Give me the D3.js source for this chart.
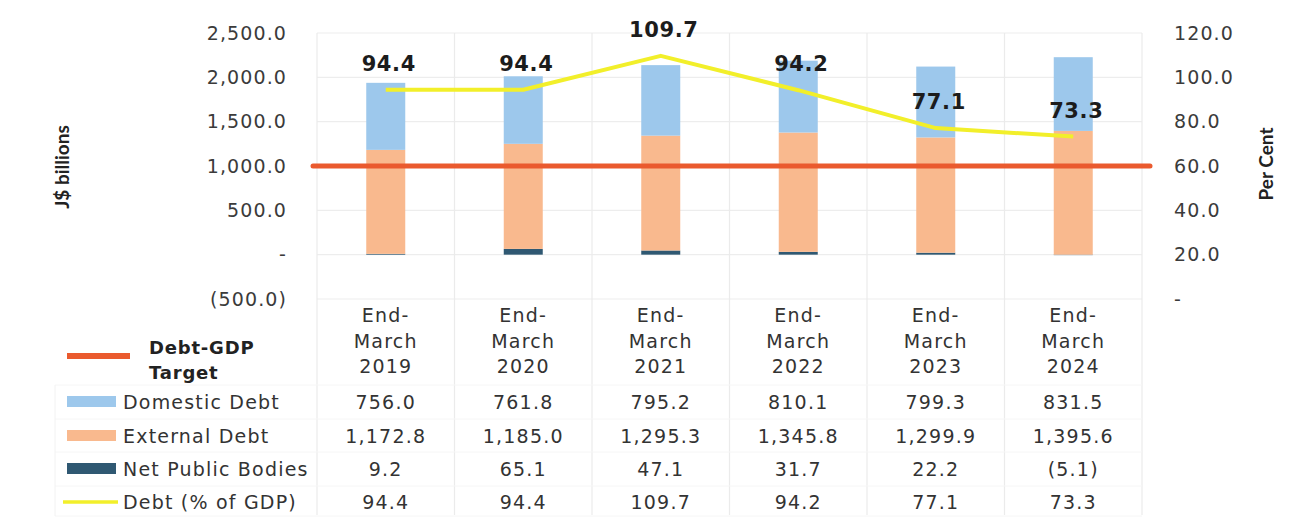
<!DOCTYPE html>
<html>
<head>
<meta charset="utf-8">
<script src="https://cdn.jsdelivr.net/npm/d3@7"></script>
<style>
  html, body { margin: 0; padding: 0; background: #ffffff; }
  svg { display: block; }
</style>
</head>
<body>
<svg id="chart" width="1313" height="523"></svg>
<script>
// ---------------- data ----------------
const categories = ["End-March 2019", "End-March 2020", "End-March 2021", "End-March 2022", "End-March 2023", "End-March 2024"];
const domesticDebt = [756.0, 761.8, 795.2, 810.1, 799.3, 831.5];
const externalDebt = [1172.8, 1185.0, 1295.3, 1345.8, 1299.9, 1395.6];
const netPublicBodies = [9.2, 65.1, 47.1, 31.7, 22.2, -5.1];
const debtPctGDP = [94.4, 94.4, 109.7, 94.2, 77.1, 73.3];
const debtGDPTarget = 60;
const leftTickValues = [-500, 0, 500, 1000, 1500, 2000, 2500];
const rightTickValues = [0, 20, 40, 60, 80, 100, 120];
const leftAxisTitle = "J$ billions";
const rightAxisTitle = "Per Cent";
const legendLabels = ["Domestic Debt", "External Debt", "Net Public Bodies", "Debt (% of GDP)"];
const targetLabelLines = ["Debt-GDP", "Target"];

// ---------------- layout ----------------
const svg = d3.select("#chart");
const X0 = 317, X1 = 1142, Y0 = 299, Y1 = 33;
const FONT = "'DejaVu Sans', Verdana, sans-serif";
const colors = { domestic: "#9DC8EC", external: "#F9B98E", net: "#2F5872", line: "#F2EF2A", target: "#EA5A2E" };

const x = d3.scaleBand().domain(categories).range([X0, X1]).paddingInner(0).paddingOuter(0);
const barW = 39;
const yL = d3.scaleLinear().domain([-500, 2500]).range([Y0, Y1]);
const yR = d3.scaleLinear().domain([0, 120]).range([Y0, Y1]);

const fmt = v => v === 0 ? "-" : (v < 0 ? "(" + d3.format(",.1f")(-v) + ")" : d3.format(",.1f")(v));

// ---------------- gridlines ----------------
const grid = svg.append("g");
grid.selectAll("line.h").data(leftTickValues).join("line")
  .attr("x1", X0).attr("x2", X1)
  .attr("y1", d => yL(d)).attr("y2", d => yL(d))
  .attr("stroke", "#ededed").attr("stroke-width", 1.2);
const edges = categories.map(c => x(c)).concat([X1]);
grid.selectAll("line.v").data(edges).join("line")
  .attr("x1", d => d).attr("x2", d => d)
  .attr("y1", Y1).attr("y2", 515)
  .attr("stroke", "#ebebeb").attr("stroke-width", 1.2);
// table row borders (very faint) and left border
const tableRowLines = [385, 419, 452, 486, 516];
grid.selectAll("line.t").data(tableRowLines).join("line")
  .attr("x1", 55).attr("x2", X1)
  .attr("y1", d => d).attr("y2", d => d)
  .attr("stroke", "#f6f6f6").attr("stroke-width", 1);
grid.append("line").attr("x1", 55).attr("x2", 55).attr("y1", 385).attr("y2", 516)
  .attr("stroke", "#f2f2f2").attr("stroke-width", 1);

// ---------------- stacked bars ----------------
const rows = categories.map((c, i) => ({ cat: c, net: netPublicBodies[i], external: externalDebt[i], domestic: domesticDebt[i] }));
const stack = d3.stack().keys(["net", "external", "domestic"]).offset(d3.stackOffsetDiverging);
const series = stack(rows);
svg.append("g").selectAll("g").data(series).join("g")
  .attr("fill", d => colors[d.key])
  .selectAll("rect").data(d => d).join("rect")
  .attr("x", d => x(d.data.cat) + x.bandwidth() / 2 - barW / 2)
  .attr("width", barW)
  .attr("y", d => yL(Math.max(d[0], d[1])))
  .attr("height", d => Math.abs(yL(d[0]) - yL(d[1])));

// ---------------- target line ----------------
svg.append("line")
  .attr("x1", X0 - 4).attr("x2", X1 + 8)
  .attr("y1", yR(debtGDPTarget)).attr("y2", yR(debtGDPTarget))
  .attr("stroke", colors.target).attr("stroke-width", 5).attr("stroke-linecap", "round");

// ---------------- debt % line ----------------
const lineGen = d3.line()
  .x((d, i) => x(categories[i]) + x.bandwidth() / 2)
  .y(d => yR(d));
svg.append("path").datum(debtPctGDP)
  .attr("d", lineGen)
  .attr("fill", "none").attr("stroke", colors.line).attr("stroke-width", 4)
  .attr("stroke-linejoin", "round");
svg.append("g").selectAll("text").data(debtPctGDP).join("text")
  .attr("x", (d, i) => x(categories[i]) + x.bandwidth() / 2 + 3)
  .attr("y", d => yR(d) - 19)
  .attr("text-anchor", "middle")
  .attr("font-family", FONT).attr("font-weight", "bold").attr("font-size", 21)
  .attr("letter-spacing", 0.6)
  .attr("fill", "#1c1c1c")
  .text(d => d3.format(".1f")(d));

// ---------------- axes ----------------
const axL = svg.append("g").attr("transform", `translate(290,0)`)
  .call(d3.axisLeft(yL).tickValues(leftTickValues).tickFormat(fmt).tickSize(0).tickPadding(3));
const axR = svg.append("g").attr("transform", `translate(1170,0)`)
  .call(d3.axisRight(yR).tickValues(rightTickValues).tickFormat(fmt).tickSize(0).tickPadding(4));
[axL, axR].forEach(ax => {
  ax.select(".domain").remove();
  ax.selectAll("text").attr("font-family", FONT).attr("font-size", 19)
    .attr("letter-spacing", 1.1).attr("fill", "#3b3b3b");
});

svg.append("text")
  .attr("transform", "translate(69,167) rotate(-90)")
  .attr("text-anchor", "middle")
  .attr("font-family", "Lato, 'Liberation Sans', sans-serif").attr("font-weight", "bold").attr("font-size", 19)
  .attr("fill", "#222").text(leftAxisTitle);
svg.append("text")
  .attr("transform", "translate(1273,164) rotate(-90)")
  .attr("text-anchor", "middle")
  .attr("font-family", "Lato, 'Liberation Sans', sans-serif").attr("font-weight", "bold").attr("font-size", 19)
  .attr("fill", "#222").text(rightAxisTitle);

// ---------------- data table ----------------
const tableFont = g => g.attr("font-family", FONT).attr("font-size", 19).attr("letter-spacing", 1.2).attr("fill", "#333");
// category header (3 lines)
const hdr = svg.append("g").call(tableFont);
categories.forEach(c => {
  const m = c.match(/^(\S+-)(\S+) (\S+)$/);
  const lines = m ? [m[1], m[2], m[3]] : [c];
  const cx = x(c) + x.bandwidth() / 2;
  lines.forEach((t, j) => {
    hdr.append("text").attr("x", cx).attr("y", 322 + j * 25.5)
      .attr("text-anchor", "middle").text(t);
  });
});

// target legend
svg.append("line").attr("x1", 67).attr("x2", 130).attr("y1", 356).attr("y2", 356)
  .attr("stroke", colors.target).attr("stroke-width", 6);
svg.append("g").selectAll("text").data(targetLabelLines).join("text")
  .attr("x", 149).attr("y", (d, i) => 354 + i * 25)
  .attr("font-family", FONT).attr("font-weight", "bold").attr("font-size", 18)
  .attr("letter-spacing", 0.8).attr("fill", "#222").text(d => d);

const rowBase = [409, 443, 476, 509];
const tableRows = [domesticDebt, externalDebt, netPublicBodies, debtPctGDP];
const keyColors = [colors.domestic, colors.external, colors.net];
// legend keys
svg.append("g").selectAll("rect").data(keyColors).join("rect")
  .attr("x", 67).attr("width", 49)
  .attr("y", (d, i) => rowBase[i] - 13).attr("height", 11)
  .attr("fill", d => d);
svg.append("line").attr("x1", 63).attr("x2", 118).attr("y1", rowBase[3] - 7).attr("y2", rowBase[3] - 7)
  .attr("stroke", colors.line).attr("stroke-width", 3.5);
// legend labels
svg.append("g").call(tableFont).selectAll("text").data(legendLabels).join("text")
  .attr("x", 123).attr("y", (d, i) => rowBase[i]).text(d => d);
// values
const vals = svg.append("g").call(tableFont);
tableRows.forEach((arr, r) => {
  vals.append("g").selectAll("text").data(arr).join("text")
    .attr("x", (d, i) => x(categories[i]) + x.bandwidth() / 2)
    .attr("y", rowBase[r])
    .attr("text-anchor", "middle")
    .text(d => fmt(d));
});
</script>
</body>
</html>
